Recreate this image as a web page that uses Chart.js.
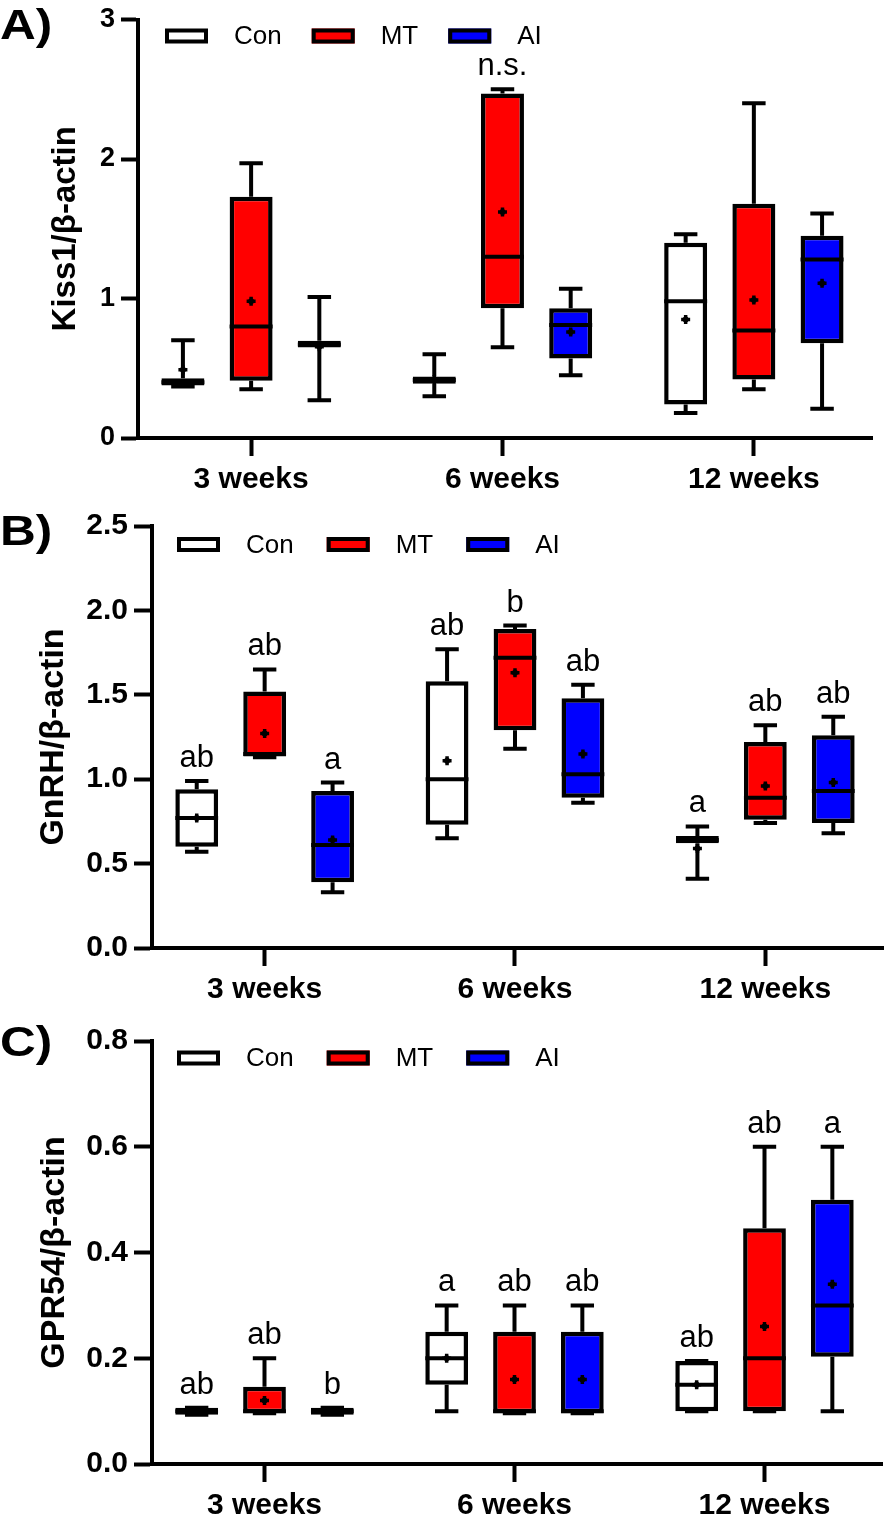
<!DOCTYPE html>
<html><head><meta charset="utf-8">
<script src="https://cdn.jsdelivr.net/npm/chart.js@4.4.1/dist/chart.umd.min.js"></script>
<style>
html,body{margin:0;padding:0;background:#fff}
body{width:885px;height:1515px;position:relative;overflow:hidden;font-family:"Liberation Sans",Arial,sans-serif}
.panel{position:absolute;left:0;width:885px}
.letter{position:absolute;left:0;font-weight:bold;font-size:42px;line-height:42px;color:#000;font-family:"Liberation Sans",Arial,sans-serif;transform:scaleX(1.18);transform-origin:0 0}
canvas{display:block}
</style></head><body>
<div class="panel" style="top:0px;height:505px"><canvas id="chartA" width="885" height="505"></canvas></div>
<div class="panel" style="top:505px;height:510px"><canvas id="chartB" width="885" height="510"></canvas></div>
<div class="panel" style="top:1015px;height:500px"><canvas id="chartC" width="885" height="500"></canvas></div>
<div class="letter" style="top:4px">A)</div>
<div class="letter" style="top:510px">B)</div>
<div class="letter" style="top:1021px">C)</div>
<script>
const FONT = '"Liberation Sans", Arial, Helvetica, sans-serif';
const categories = ['3 weeks', '6 weeks', '12 weeks'];
const groups = ['Con', 'MT', 'AI'];
const groupColors = ['#FFFFFF', '#FF0000', '#0000FF'];

// each row: [min, q1, median, q3, max, mean] for 3, 6, 12 weeks
const kiss1Con = [[0.37,0.376,0.40,0.428,0.70,0.49],[0.30,0.389,0.415,0.44,0.60,0.42],[0.18,0.24,0.98,1.40,1.46,0.85]];
const kiss1MT  = [[0.35,0.41,0.80,1.73,1.97,0.98],[0.65,0.93,1.30,2.47,2.50,1.62],[0.35,0.42,0.77,1.68,2.40,0.99]];
const kiss1AI  = [[0.27,0.649,0.67,0.697,1.01,0.655],[0.45,0.57,0.81,0.93,1.07,0.76],[0.21,0.68,1.28,1.45,1.61,1.11]];
const kiss1Sig = [['','',''],['','n.s.',''],['','','']];
const kiss1Ticks = [0, 1, 2, 3];

const gnrhCon = [[0.57,0.60,0.77,0.94,0.99,0.77],[0.65,0.73,1.00,1.58,1.77,1.11],[0.41,0.62,0.64,0.664,0.72,0.59]];
const gnrhMT  = [[1.13,1.135,1.15,1.52,1.65,1.27],[1.18,1.29,1.72,1.89,1.91,1.63],[0.74,0.76,0.89,1.22,1.32,0.96]];
const gnrhAI  = [[0.33,0.39,0.61,0.93,0.98,0.64],[0.86,0.89,1.03,1.48,1.56,1.15],[0.68,0.74,0.93,1.26,1.37,0.98]];
const gnrhSig = [['ab','ab','a'],['ab','b','ab'],['a','ab','ab']];
const gnrhTicks = [0, 0.5, 1.0, 1.5, 2.0, 2.5];

const gprCon = [[0.093,0.093,0.10,0.1065,0.1065,0.10],[0.10,0.15,0.20,0.25,0.30,0.20],[0.10,0.10,0.15,0.195,0.195,0.15]];
const gprMT  = [[0.096,0.096,0.10,0.146,0.20,0.12],[0.096,0.096,0.10,0.25,0.30,0.16],[0.10,0.10,0.20,0.446,0.60,0.26]];
const gprAI  = [[0.093,0.093,0.10,0.1065,0.1065,0.10],[0.096,0.096,0.10,0.25,0.30,0.16],[0.10,0.203,0.30,0.50,0.60,0.34]];
const gprSig = [['ab','ab','b'],['a','ab','ab'],['ab','ab','a']];
const gprTicks = [0, 0.2, 0.4, 0.6, 0.8];

const LW = 4;

const boxPlotPlugin = {
  id: 'boxPlot',
  beforeDatasetsDraw(chart) {
    const ctx = chart.ctx, ys = chart.scales.y;
    ctx.save();
    ctx.strokeStyle = '#000'; ctx.lineWidth = LW; ctx.lineCap = 'butt';
    chart.data.datasets.forEach((ds, di) => {
      chart.getDatasetMeta(di).data.forEach((el, i) => {
        const s = ds.stats[i];
        const cap = el.width / 4 + 1;
        const yMin = ys.getPixelForValue(s[0]), yQ1 = ys.getPixelForValue(s[1]);
        const yQ3 = ys.getPixelForValue(s[3]), yMax = ys.getPixelForValue(s[4]);
        ctx.beginPath();
        ctx.moveTo(el.x, yQ3); ctx.lineTo(el.x, yMax);
        ctx.moveTo(el.x - cap, yMax); ctx.lineTo(el.x + cap, yMax);
        ctx.moveTo(el.x, yQ1); ctx.lineTo(el.x, yMin);
        ctx.moveTo(el.x - cap, yMin); ctx.lineTo(el.x + cap, yMin);
        ctx.stroke();
      });
    });
    ctx.restore();
  },
  afterDatasetsDraw(chart, args, opts) {
    const ctx = chart.ctx, ys = chart.scales.y;
    ctx.save();
    chart.data.datasets.forEach((ds, di) => {
      chart.getDatasetMeta(di).data.forEach((el, i) => {
        const s = ds.stats[i];
        const half = el.width / 2;
        const yMed = ys.getPixelForValue(s[2]);
        ctx.strokeStyle = '#000'; ctx.lineWidth = LW;
        ctx.beginPath();
        ctx.moveTo(el.x - half, yMed); ctx.lineTo(el.x + half, yMed);
        ctx.stroke();
        const yMean = ys.getPixelForValue(s[5]);
        ctx.lineWidth = 3.5;
        ctx.beginPath();
        ctx.moveTo(el.x - 4.5, yMean); ctx.lineTo(el.x + 4.5, yMean);
        ctx.moveTo(el.x, yMean - 4.5); ctx.lineTo(el.x, yMean + 4.5);
        ctx.stroke();
        ctx.fillStyle = '#000';
        ctx.beginPath(); ctx.arc(el.x, yMean, 3, 0, Math.PI * 2); ctx.fill();
        if (ds.sig[i]) {
          ctx.font = opts.sigFont + 'px ' + FONT;
          ctx.textAlign = 'center'; ctx.textBaseline = 'alphabetic';
          ctx.fillText(ds.sig[i], el.x, ys.getPixelForValue(s[4]) - 14);
        }
      });
    });
    ctx.restore();
  },
  afterDraw(chart, args, opts) {
    const ctx = chart.ctx, area = chart.chartArea;
    ctx.save();
    let x = area.left + opts.legendX;
    const yc = area.top + opts.legendY;
    ctx.font = opts.legendFont + 'px ' + FONT;
    chart.data.datasets.forEach(ds => {
      ctx.fillStyle = ds.backgroundColor;
      ctx.fillRect(x, yc - 7.5, 43, 15);
      ctx.strokeStyle = '#000'; ctx.lineWidth = 4;
      ctx.strokeRect(x + 2, yc - 5.5, 39, 11);
      ctx.fillStyle = '#000'; ctx.textAlign = 'left'; ctx.textBaseline = 'middle';
      ctx.fillText(ds.label, x + 43 + 26, yc + 1);
      x += 43 + 26 + ctx.measureText(ds.label).width + opts.legendGap;
    });
    ctx.restore();
  }
};

function buildChart(id, p) {
  const datasets = groups.map((g, gi) => ({
    label: g,
    data: categories.map((c, ci) => ({ x: ci + 1, y: [p.stats[gi][ci][1], p.stats[gi][ci][3]] })),
    stats: p.stats[gi],
    sig: p.sig.map(r => r[gi]),
    backgroundColor: groupColors[gi],
    borderColor: '#000',
    borderWidth: 4.5,
    borderSkipped: false,
    categoryPercentage: 0.814,
    barPercentage: 0.63
  }));
  return new Chart(document.getElementById(id), {
    type: 'bar',
    data: { datasets },
    plugins: [boxPlotPlugin],
    options: {
      responsive: false, animation: false, devicePixelRatio: 1,
      layout: { padding: { top: p.padTop, right: p.padRight, left: 0, bottom: 0 } },
      plugins: {
        legend: { display: false }, tooltip: { enabled: false },
        boxPlot: { legendX: p.legendX, legendY: p.legendY, legendGap: p.legendGap, legendFont: 26, sigFont: 31 }
      },
      scales: {
        x: {
          type: 'linear', min: 0.55, max: 3.47, offset: false,
          afterBuildTicks: s => { s.ticks = categories.map((c, i) => ({ value: i + 1 })); },
          ticks: { callback: v => categories[Math.round(v) - 1], font: { family: FONT, size: 30, weight: 'bold' }, color: '#000', padding: 6, maxRotation: 0, autoSkip: false },
          grid: { offset: false, drawOnChartArea: false, drawTicks: true, tickLength: 18, tickWidth: LW, tickColor: '#000' },
          border: { display: true, color: '#000', width: LW },
          afterFit: s => { s.height = p.xHeight; }
        },
        y: {
          type: 'linear', min: 0, max: p.yMax,
          afterBuildTicks: s => { s.ticks = p.yTicks.map(v => ({ value: v })); },
          ticks: { callback: v => Number(v).toFixed(p.dec), font: { family: FONT, size: p.yTickSize, weight: 'bold', lineHeight: 1 }, color: '#000', padding: p.yTickPad },
          grid: { offset: false, drawOnChartArea: false, drawTicks: true, tickLength: p.yTickLen, tickWidth: LW, tickColor: '#000' },
          border: { display: true, color: '#000', width: LW },
          title: { display: true, text: p.title, color: '#000', font: { family: FONT, size: p.titleSize, weight: 'bold', lineHeight: 1 }, padding: { top: p.titlePad, bottom: 0 } },
          afterFit: s => { s.width = p.yWidth; }
        }
      }
    }
  });
}

buildChart('chartA', { stats: [kiss1Con, kiss1MT, kiss1AI], sig: kiss1Sig, yTicks: kiss1Ticks, yMax: 3, dec: 0,
  title: 'Kiss1/β-actin', titleSize: 33, titlePad: 49.5, yWidth: 138, yTickSize: 27, yTickPad: 6, yTickLen: 17,
  padTop: 16, padRight: 13, xHeight: 67, legendX: 27, legendY: 16.5, legendGap: 30 });
buildChart('chartB', { stats: [gnrhCon, gnrhMT, gnrhAI], sig: gnrhSig, yTicks: gnrhTicks, yMax: 2.5, dec: 1,
  title: 'GnRH/β-actin', titleSize: 34, titlePad: 36.5, yWidth: 152, yTickSize: 30, yTickPad: 6, yTickLen: 18,
  padTop: 20, padRight: 2, xHeight: 67, legendX: 25, legendY: 18.5, legendGap: 33 });
buildChart('chartC', { stats: [gprCon, gprMT, gprAI], sig: gprSig, yTicks: gprTicks, yMax: 0.8, dec: 1,
  title: 'GPR54/β-actin', titleSize: 34, titlePad: 37.5, yWidth: 152, yTickSize: 30, yTickPad: 6, yTickLen: 18,
  padTop: 26, padRight: 3, xHeight: 51, legendX: 25, legendY: 17, legendGap: 33 });
</script>
</body></html>
